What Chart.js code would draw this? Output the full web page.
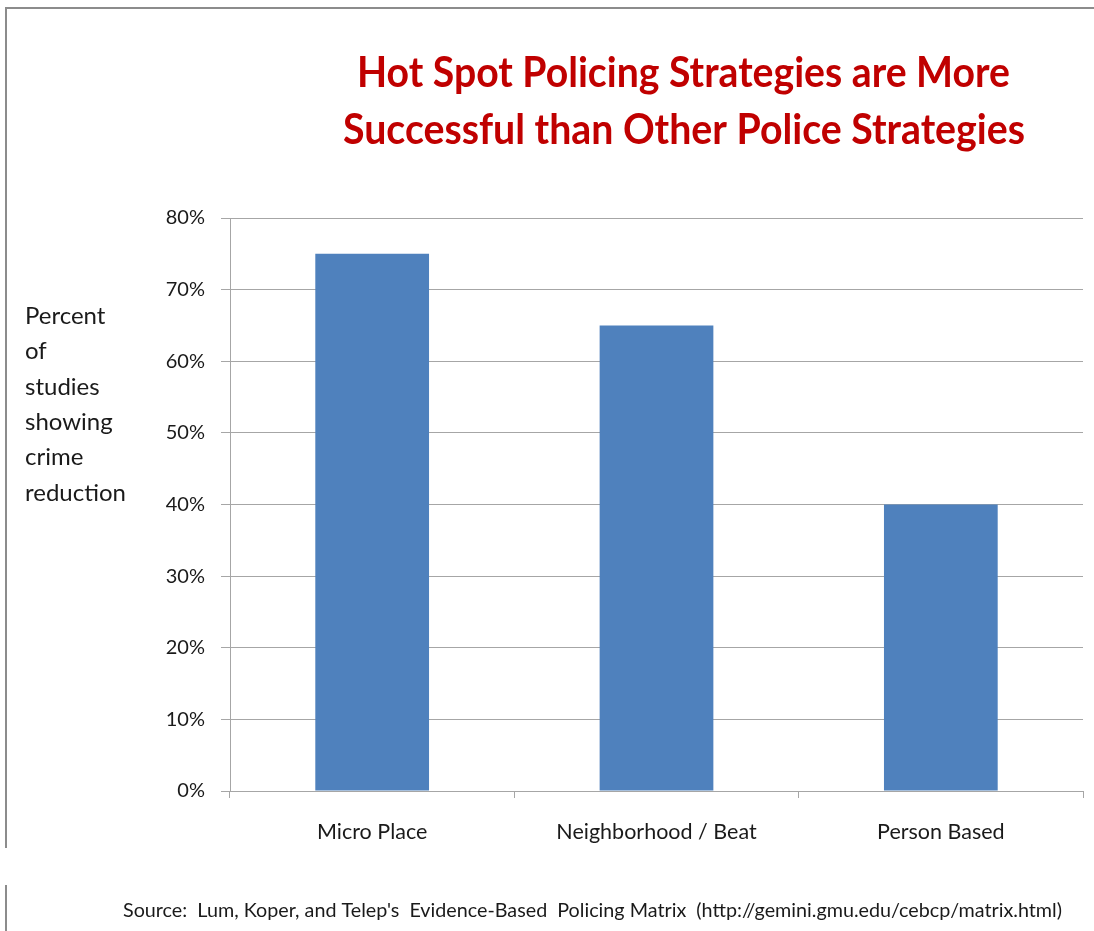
<!DOCTYPE html>
<html>
<head>
<meta charset="utf-8">
<script src="https://cdn.jsdelivr.net/npm/chart.js@4.4.1/dist/chart.umd.min.js"></script>
<style>
  html, body { margin: 0; padding: 0; background: #fff; }
  #wrap { width: 1094px; height: 931px; }
</style>
</head>
<body>
<div id="wrap"><canvas id="chart" width="1094" height="931"></canvas></div>
<script>
// data
const categories = ['Micro Place', 'Neighborhood / Beat', 'Person Based'];
const percentValues = [75, 65, 40];
const titleLines = ['Hot Spot Policing Strategies are More', 'Successful than Other Police Strategies'];
const yLabelLines = ['Percent', 'of', 'studies', 'showing', 'crime', 'reduction'];
const sourceText = "Source:  Lum, Koper, and Telep's  Evidence-Based  Policing Matrix  (http://gemini.gmu.edu/cebcp/matrix.html)";

const gridGray = '#a6a6a6';

// draw text squeezed to a target width (the original looks horizontally condensed)
function drawFitted(ctx, text, cx, y, width, font, color) {
    ctx.save();
    ctx.font = font;
    ctx.fillStyle = color;
    ctx.textAlign = 'center';
    ctx.textBaseline = 'alphabetic';
    const w = ctx.measureText(text).width;
    ctx.translate(cx, y);
    ctx.scale(width / w, 1);
    ctx.fillText(text, 0, 0);
    ctx.restore();
}

const decor = {
    id: 'decor',
    beforeDraw(chart) {
        const ctx = chart.ctx;
        ctx.save();
        ctx.fillStyle = '#fff';
        ctx.fillRect(0, 0, chart.width, chart.height);
        // frame of the slide
        ctx.strokeStyle = '#8c8c8c';
        ctx.lineWidth = 2;
        ctx.beginPath();
        ctx.moveTo(6, 848); ctx.lineTo(6, 8); ctx.lineTo(1094, 8);
        ctx.moveTo(6, 885); ctx.lineTo(6, 931);
        ctx.stroke();
        ctx.restore();
    },
    afterDraw(chart) {
        const ctx = chart.ctx;
        drawFitted(ctx, titleLines[0], 683.5, 87, 653, 'bold 42px Lato', '#c00000');
        drawFitted(ctx, titleLines[1], 684, 144, 682, 'bold 42px Lato', '#c00000');

        ctx.save();
        ctx.font = '24px Lato';
        ctx.fillStyle = '#1a1a1a';
        ctx.textAlign = 'left';
        ctx.textBaseline = 'middle';
        yLabelLines.forEach((t, i) => ctx.fillText(t, 25, 316 + i * 35.4));
        ctx.restore();

        drawFitted(ctx, sourceText, 592.5, 917, 939, '19px Lato', '#1a1a1a');
    }
};

const ctx = document.getElementById('chart').getContext('2d');
new Chart(ctx, {
    type: 'bar',
    data: {
        labels: categories,
        datasets: [{
            data: percentValues,
            backgroundColor: '#4f81bd',
            borderWidth: 0,
            categoryPercentage: 1.0,
            barPercentage: 0.4
        }]
    },
    options: {
        responsive: false,
        animation: false,
        devicePixelRatio: 1,
        layout: { padding: { left: 130, top: 218, right: 11, bottom: 0 } },
        plugins: {
            legend: { display: false },
            title: { display: false },
            tooltip: { enabled: false }
        },
        scales: {
            x: {
                afterFit: function (scale) { scale.height = 140; },
                grid: { drawOnChartArea: false, drawTicks: true, tickLength: 7, color: gridGray },
                border: { color: gridGray },
                ticks: { color: '#1a1a1a', font: { family: 'Lato', size: 21.5 }, padding: 21 }
            },
            y: {
                min: 0,
                max: 80,
                afterFit: function (scale) { scale.width = 100; },
                grid: { color: gridGray, tickLength: 9 },
                border: { color: gridGray },
                ticks: {
                    stepSize: 10,
                    color: '#1a1a1a',
                    font: { family: 'Lato', size: 20 },
                    padding: 16,
                    callback: v => v + '%'
                }
            }
        }
    },
    plugins: [decor]
});
</script>
</body>
</html>
